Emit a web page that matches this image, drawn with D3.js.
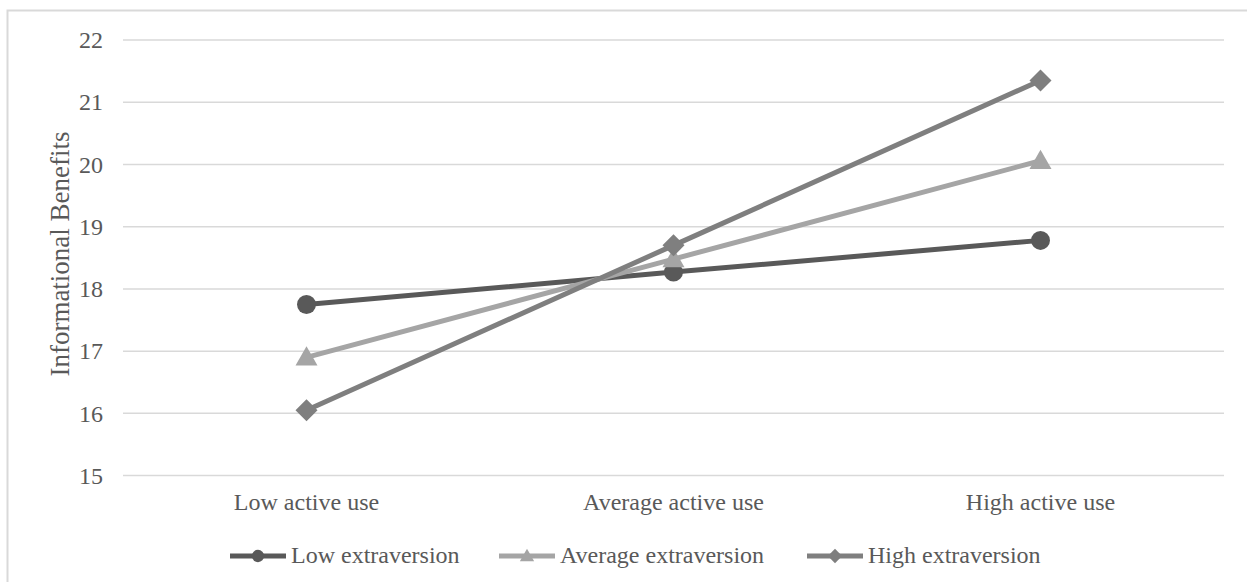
<!DOCTYPE html>
<html>
<head>
<meta charset="utf-8">
<script src="https://cdn.jsdelivr.net/npm/d3@7"></script>
<style>
  html, body { margin: 0; padding: 0; background: #fff; }
  svg { display: block; font-family: "Liberation Serif", "Times New Roman", serif; }
</style>
</head>
<body>
<svg id="chart" width="1247" height="582"></svg>
<script>
const categories = ["Low active use", "Average active use", "High active use"];
const seriesNames = ["Low extraversion", "Average extraversion", "High extraversion"];
const lowExtraversion = [17.75, 18.27, 18.78];
const averageExtraversion = [16.90, 18.48, 20.06];
const highExtraversion = [16.05, 18.70, 21.35];
const yTicks = [15, 16, 17, 18, 19, 20, 21, 22];
const yTitle = "Informational Benefits";

const seriesValues = [lowExtraversion, averageExtraversion, highExtraversion];
const colors = ["#595959", "#a5a5a5", "#7f7f7f"];
const FONT = "Liberation Serif, Times New Roman, serif";

// marker drawing helper: circle / triangle / diamond (rotated square)
function marker(sel, kind, scale) {
  if (kind === 0) {
    sel.append("circle").attr("r", 9.5 * scale);
  } else if (kind === 1) {
    const s = 11 * scale;
    sel.append("path").attr("d", `M0,${-s}L${s},${s * 0.75}L${-s},${s * 0.75}Z`);
  } else {
    const s = 11 * scale;
    sel.append("path").attr("d", `M0,${-s}L${s},0L0,${s}L${-s},0Z`);
  }
}

const svg = d3.select("#chart");
const W = 1247, H = 582;

// outer border
svg.append("rect")
  .attr("x", 7.5).attr("y", 10.5)
  .attr("width", W + 10).attr("height", H + 10)
  .attr("fill", "none").attr("stroke", "#d9d9d9").attr("stroke-width", 2);

const plot = { left: 123, right: 1224, top: 40, bottom: 475.6 };

const x = d3.scaleBand().domain(categories).range([plot.left, plot.right]).padding(0);
const y = d3.scaleLinear().domain([15, 22]).range([plot.bottom, plot.top]);

// gridlines
svg.append("g").selectAll("line").data(yTicks).join("line")
  .attr("x1", plot.left).attr("x2", plot.right)
  .attr("y1", d => y(d)).attr("y2", d => y(d))
  .attr("stroke", "#d9d9d9").attr("stroke-width", 1.5);

// y axis
const yAxis = d3.axisLeft(y).tickValues(yTicks).tickFormat(d3.format("d")).tickSize(0).tickPadding(20);
const gy = svg.append("g").attr("transform", `translate(${plot.left},0)`).call(yAxis);
gy.attr("font-family", FONT).attr("font-size", 24);
gy.select(".domain").remove();
gy.selectAll("text").attr("fill", "#595959");

// x axis
const xAxis = d3.axisBottom(x).tickSize(0).tickPadding(17.5);
const gx = svg.append("g").attr("transform", `translate(0,${plot.bottom})`).call(xAxis);
gx.attr("font-family", FONT).attr("font-size", 24);
gx.select(".domain").remove();
gx.selectAll("text").attr("fill", "#595959");

// y title
svg.append("text")
  .attr("transform", `translate(69,254) rotate(-90)`)
  .attr("text-anchor", "middle")
  .attr("font-family", FONT)
  .attr("font-size", 27).attr("fill", "#595959")
  .text(yTitle);

// series
const cx = i => x(categories[i]) + x.bandwidth() / 2;
const line = d3.line().x((d, i) => cx(i)).y(d => y(d));
seriesValues.forEach((vals, si) => {
  const g = svg.append("g").attr("fill", colors[si]);
  g.append("path").datum(vals)
    .attr("d", line).attr("fill", "none")
    .attr("stroke", colors[si]).attr("stroke-width", 5).attr("stroke-linejoin", "round");
  vals.forEach((v, i) => {
    const m = g.append("g").attr("transform", `translate(${cx(i)},${y(v)})`);
    marker(m, si, 1);
  });
});

// legend
const legendX = [230, 499, 807];
const legendY = 556;
seriesNames.forEach((name, si) => {
  const g = svg.append("g").attr("transform", `translate(${legendX[si]},${legendY})`).attr("fill", colors[si]);
  g.append("line").attr("x1", 0).attr("x2", 56).attr("y1", 0).attr("y2", 0)
    .attr("stroke", colors[si]).attr("stroke-width", 5);
  const m = g.append("g").attr("transform", "translate(28,0)");
  marker(m, si, 0.65);
  g.append("text").attr("x", 61).attr("y", 0).attr("dy", "0.3em")
    .attr("font-family", FONT)
    .attr("font-size", 24).attr("fill", "#595959").text(name);
});
</script>
</body>
</html>
